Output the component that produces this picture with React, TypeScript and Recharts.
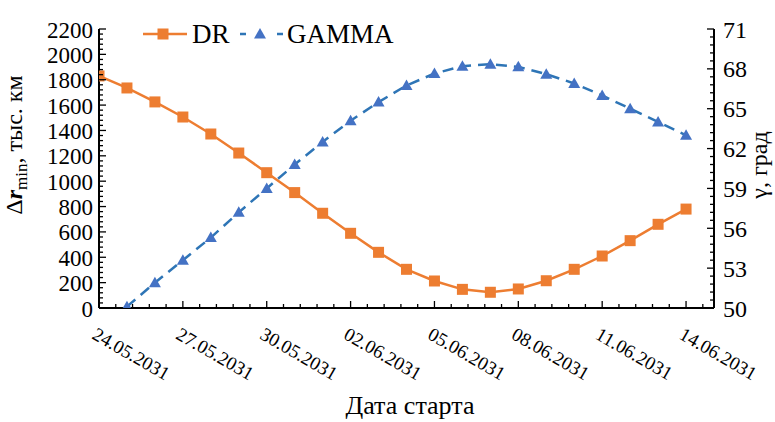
import React from "react";
import { LineChart, Line, XAxis, YAxis, Legend, Label } from "recharts";

// day offsets from 24.05.2031
const days = [0, 1, 2, 3, 4, 5, 6, 7, 8, 9, 10, 11, 12, 13, 14, 15, 16, 17, 18, 19, 20, 21];
const drValues = [
  1830, 1735, 1625, 1506, 1372, 1222, 1067, 910, 747, 589, 439, 305, 213, 147, 124, 150, 215, 305,
  410, 531, 660, 780,
];
const gammaValues = [
  null, 50.1, 51.9, 53.6, 55.3, 57.2, 59.0, 60.8, 62.5, 64.1, 65.5, 66.75, 67.65, 68.2, 68.35,
  68.15, 67.6, 66.9, 66.0, 65.0, 64.0, 63.0,
];
const dateLabels = [
  "24.05.2031",
  "27.05.2031",
  "30.05.2031",
  "02.06.2031",
  "05.06.2031",
  "08.06.2031",
  "11.06.2031",
  "14.06.2031",
];

const FONT = "'Liberation Serif', Tinos, 'Times New Roman', 'DejaVu Serif', serif";
const ORANGE = "#ED7D31";
const BLUE = "#4472C4";
const BLUE_LINE = "#2E75B6";

const data = days.map((d, i) => ({ day: d, dr: drValues[i], gamma: gammaValues[i] }));

const steps = (from: number, to: number, step: number) => {
  const out: number[] = [];
  for (let v = from; v <= to + 1e-9; v += step) out.push(Math.round(v * 100) / 100);
  return out;
};
const isMult = (v: number, base: number, m: number) =>
  Math.abs((v - base) / m - Math.round((v - base) / m)) < 1e-6;

const xTicks = steps(0, 21.6, 0.6);
const leftTicks = steps(0, 2200, 40);
const rightTicks = steps(50, 71, 0.6);

const txt = (size: number): React.CSSProperties => ({ fontFamily: FONT, fontSize: size, fill: "#000" });

function XTick({ x, y, payload }: any) {
  const v = payload.value;
  const major = isMult(v, 0, 3);
  const tx = x - 8;
  const ty = y + 30;
  return (
    <g>
      <line x1={x} y1={y} x2={x} y2={y - (major ? 7 : 4)} stroke="#000" strokeWidth={1.3} />
      {major && (
        <text x={tx} y={ty} transform={`rotate(30 ${tx} ${ty})`} style={txt(19)} textAnchor="start">
          {dateLabels[Math.round(v / 3)]}
        </text>
      )}
    </g>
  );
}

function LeftTick({ x, y, payload }: any) {
  const v = payload.value;
  const major = isMult(v, 0, 200);
  return (
    <g>
      <line x1={x} y1={y} x2={x + (major ? 7 : 4)} y2={y} stroke="#000" strokeWidth={1.3} />
      {major && (
        <text x={x - 6} y={y + 8.5} style={txt(23)} textAnchor="end">
          {v}
        </text>
      )}
    </g>
  );
}

function RightTick({ x, y, payload }: any) {
  const v = payload.value;
  const major = isMult(v, 50, 3);
  return (
    <g>
      <line x1={x} y1={y} x2={x - (major ? 7 : 4)} y2={y} stroke="#000" strokeWidth={1.3} />
      {major && (
        <text x={x + 9} y={y + 8.5} style={txt(24)} textAnchor="start">
          {Math.round(v)}
        </text>
      )}
    </g>
  );
}

function Square({ cx, cy }: any) {
  if (cx == null || cy == null) return null;
  return <rect x={cx - 5.5} y={cy - 5.5} width={11} height={11} fill={ORANGE} />;
}

function Triangle({ cx, cy }: any) {
  if (cx == null || cy == null) return null;
  return (
    <polygon
      points={`${cx - 6},${cy + 4.5} ${cx + 6},${cy + 4.5} ${cx},${cy - 6}`}
      fill={BLUE}
    />
  );
}

function LegendBox() {
  return (
    <svg width={270} height={36} style={{ display: "block" }}>
      <line x1={3} y1={21} x2={47} y2={21} stroke={ORANGE} strokeWidth={2.5} />
      <rect x={17.5} y={15.5} width={11} height={11} fill={ORANGE} />
      <text x={52} y={30} style={txt(27)}>
        DR
      </text>
      <line x1={100} y1={21} x2={143} y2={21} stroke={BLUE_LINE} strokeWidth={2.5} strokeDasharray="6 31" />
      <polygon points="114,25.5 126,25.5 120,15" fill={BLUE} />
      <text x={147} y={30} style={txt(27)}>
        GAMMA
      </text>
    </svg>
  );
}

function LeftTitle({ viewBox }: any) {
  const cx = viewBox.x + 22;
  const cy = 145;
  return (
    <text x={cx} y={cy} transform={`rotate(-90 ${cx} ${cy})`} textAnchor="middle" style={txt(24)}>
      <tspan>Δ</tspan>
      <tspan fontStyle="italic" fontWeight="bold">r</tspan>
      <tspan fontSize={17} dy={5}>min</tspan>
      <tspan dy={-5}>, тыс. км</tspan>
    </text>
  );
}

function RightTitle({ viewBox }: any) {
  const cx = viewBox.x + 53;
  const cy = 165;
  return (
    <text x={cx} y={cy} transform={`rotate(-90 ${cx} ${cy})`} textAnchor="middle" style={txt(24)}>
      γ, град
    </text>
  );
}

function XTitle({ viewBox }: any) {
  return (
    <text x={410} y={viewBox.y + 106} textAnchor="middle" style={txt(26)}>
      Дата старта
    </text>
  );
}

export default function App() {
  return (
    <div style={{ position: "absolute", left: 0, top: 0, background: "#fff" }}>
      <LineChart width={775} height={422} data={data} margin={{ top: 29, right: 0, bottom: 0, left: 0 }}>
        <XAxis
          dataKey="day"
          type="number"
          domain={[0, 22]}
          ticks={xTicks}
          interval={0}
          allowDataOverflow
          height={114}
          tickSize={0}
          tickMargin={0}
          tickLine={false}
          axisLine={{ stroke: "#000", strokeWidth: 2 }}
          tick={<XTick />}
        >
          <Label content={<XTitle />} />
        </XAxis>
        <YAxis
          yAxisId="left"
          domain={[0, 2200]}
          ticks={leftTicks}
          interval={0}
          allowDataOverflow
          width={99}
          tickSize={0}
          tickMargin={0}
          tickLine={false}
          axisLine={{ stroke: "#000", strokeWidth: 2 }}
          tick={<LeftTick />}
        >
          <Label content={<LeftTitle />} />
        </YAxis>
        <YAxis
          yAxisId="right"
          orientation="right"
          domain={[50, 71]}
          ticks={rightTicks}
          interval={0}
          allowDataOverflow
          width={61}
          tickSize={0}
          tickMargin={0}
          tickLine={false}
          axisLine={{ stroke: "#000", strokeWidth: 2 }}
          tick={<RightTick />}
        >
          <Label content={<RightTitle />} />
        </YAxis>
        <Legend
          verticalAlign="middle"
          content={<LegendBox />}
          wrapperStyle={{ top: 13, left: 140, width: 270, height: 36 }}
        />
        <Line
          yAxisId="left"
          dataKey="dr"
          stroke={ORANGE}
          strokeWidth={2.5}
          dot={<Square />}
          isAnimationActive={false}
        />
        <Line
          yAxisId="right"
          dataKey="gamma"
          stroke={BLUE_LINE}
          strokeWidth={2.5}
          strokeDasharray="11 7"
          dot={<Triangle />}
          connectNulls={false}
          isAnimationActive={false}
        />
      </LineChart>
    </div>
  );
}
